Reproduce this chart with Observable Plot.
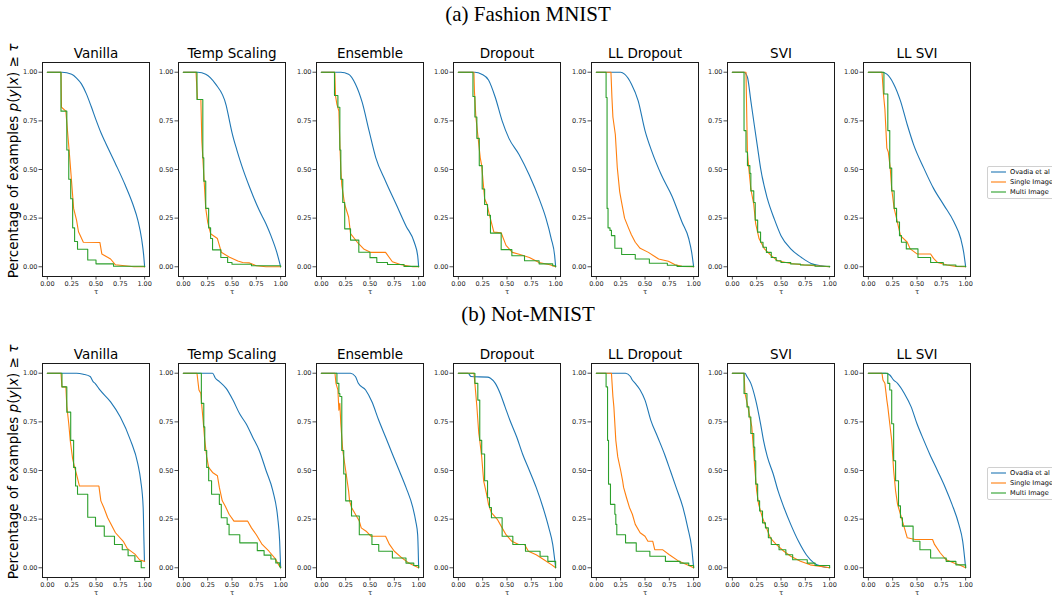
<!DOCTYPE html>
<html>
<head>
<meta charset="utf-8">
<script src="https://cdn.jsdelivr.net/npm/d3@7"></script>
<script src="https://cdn.jsdelivr.net/npm/@observablehq/plot@0.6"></script>
<style>
  body { margin: 0; background: white; }
  #root { position: relative; width: 1052px; height: 596px; overflow: hidden; background: white; font-family: "DejaVu Sans", sans-serif; }
  .title { position: absolute; left: 2px; width: 1052px; text-align: center; font-family: "Liberation Serif", serif; font-size: 21px; line-height: 24px; color: #000; }
  .ylab { position: absolute; width: 260px; height: 16px; line-height: 16px; text-align: center; font-size: 13.5px; white-space: nowrap; transform: rotate(-90deg); transform-origin: center; color: #000; }
  .panel { position: absolute; }
  .legend { position: absolute; left: 987px; width: 80px; height: 31px; border: 1px solid #d0d0d0; border-radius: 2px; background: white; }
  .legrow { position: absolute; left: 3px; height: 10px; display: flex; align-items: center; font-size: 6.6px; color: #000; white-space: nowrap; }
  .legrow svg { margin-right: 4px; }
</style>
</head>
<body>
<div id="root"></div>
<script>
// ---------- labels ----------
const methods = ["Vanilla", "Temp Scaling", "Ensemble", "Dropout", "LL Dropout", "SVI", "LL SVI"];
const seriesNames = ["Ovadia et al", "Single Image", "Multi Image"];
const seriesColors = ["#1f77b4", "#ff7f0e", "#2ca02c"];
const seriesCurves = ["monotone-x", "linear", "step-after"];
const tickValues = [0, 0.25, 0.5, 0.75, 1];
const rowTitles = ["(a) Fashion MNIST", "(b) Not-MNIST"];

// ---------- (a) Fashion MNIST: [tau, fraction] ----------
const fm_vanilla_ovadia = [[0,1],[0.15,1],[0.25,0.99],[0.30,0.97],[0.35,0.94],[0.40,0.89],[0.45,0.825],[0.50,0.755],[0.55,0.69],[0.60,0.635],[0.70,0.53],[0.80,0.42],[0.88,0.32],[0.93,0.24],[0.97,0.14],[0.99,0.06],[1,0]];
const fm_vanilla_single = [[0,1],[0.14,1],[0.145,0.82],[0.19,0.80],[0.23,0.56],[0.27,0.30],[0.30,0.24],[0.32,0.18],[0.37,0.126],[0.54,0.125],[0.56,0.066],[0.65,0.04],[0.70,0.01],[0.89,0],[1,0]];
const fm_vanilla_multi = [[0,1],[0.14,0.80],[0.20,0.60],[0.22,0.45],[0.24,0.35],[0.26,0.2],[0.28,0.13],[0.31,0.09],[0.415,0.035],[0.50,0.015],[0.68,0.003],[1,0]];

const fm_temp_ovadia = [[0,1],[0.15,1],[0.23,0.99],[0.33,0.94],[0.44,0.83],[0.47,0.76],[0.50,0.69],[0.55,0.60],[0.60,0.52],[0.68,0.41],[0.78,0.29],[0.85,0.22],[0.90,0.16],[0.96,0.075],[1,0]];
const fm_temp_single = [[0,1],[0.13,1],[0.145,0.86],[0.18,0.86],[0.19,0.645],[0.20,0.56],[0.23,0.30],[0.25,0.23],[0.28,0.17],[0.35,0.145],[0.39,0.075],[0.47,0.05],[0.56,0.03],[0.61,0.022],[0.68,0.02],[0.75,0.005],[0.85,0],[1,0]];
const fm_temp_multi = [[0,1],[0.14,0.86],[0.20,0.56],[0.21,0.44],[0.23,0.30],[0.26,0.20],[0.28,0.145],[0.30,0.087],[0.385,0.048],[0.455,0.022],[0.50,0.013],[0.70,0.005],[1,0]];

const fm_ensemble_ovadia = [[0,1],[0.20,1],[0.28,0.99],[0.35,0.94],[0.42,0.845],[0.49,0.70],[0.56,0.56],[0.66,0.44],[0.77,0.32],[0.87,0.21],[0.955,0.126],[0.99,0.057],[1,0]];
const fm_ensemble_single = [[0,1],[0.138,1],[0.145,0.88],[0.16,0.835],[0.18,0.80],[0.19,0.63],[0.20,0.50],[0.21,0.42],[0.24,0.32],[0.28,0.256],[0.30,0.17],[0.37,0.126],[0.44,0.09],[0.51,0.074],[0.66,0.074],[0.73,0.026],[0.82,0.01],[0.94,0],[1,0]];
const fm_ensemble_multi = [[0,1],[0.135,0.88],[0.17,0.82],[0.19,0.60],[0.20,0.45],[0.22,0.33],[0.24,0.195],[0.30,0.137],[0.385,0.075],[0.50,0.047],[0.57,0.022],[0.68,0.012],[0.85,0.002],[1,0]];

const fm_dropout_ovadia = [[0,1],[0.17,1],[0.24,0.99],[0.31,0.96],[0.38,0.87],[0.45,0.75],[0.52,0.66],[0.625,0.576],[0.73,0.47],[0.83,0.35],[0.90,0.25],[0.955,0.144],[0.99,0.057],[1,0]];
const fm_dropout_single = [[0,1],[0.16,1],[0.165,0.905],[0.18,0.77],[0.225,0.56],[0.24,0.52],[0.27,0.35],[0.295,0.32],[0.32,0.265],[0.365,0.178],[0.44,0.175],[0.49,0.11],[0.555,0.074],[0.625,0.064],[0.73,0.048],[0.83,0.022],[0.94,0.01],[1,0]];
const fm_dropout_multi = [[0,1],[0.15,0.875],[0.17,0.77],[0.19,0.66],[0.215,0.52],[0.245,0.40],[0.27,0.32],[0.30,0.265],[0.33,0.173],[0.44,0.088],[0.55,0.057],[0.68,0.031],[0.83,0.015],[0.97,0.005],[1,0]];

const fm_llDropout_ovadia = [[0,1],[0.25,1],[0.29,0.99],[0.36,0.94],[0.43,0.853],[0.50,0.70],[0.57,0.593],[0.67,0.47],[0.78,0.36],[0.88,0.23],[0.95,0.144],[0.98,0.074],[1,0]];
const fm_llDropout_single = [[0,1],[0.15,1],[0.16,0.87],[0.17,0.77],[0.195,0.68],[0.215,0.51],[0.24,0.385],[0.26,0.33],[0.29,0.25],[0.33,0.20],[0.36,0.165],[0.40,0.126],[0.45,0.095],[0.535,0.074],[0.64,0.04],[0.74,0.028],[0.81,0.01],[0.88,0.002],[1,0]];
const fm_llDropout_multi = [[0,1],[0.09,1],[0.10,0.87],[0.11,0.30],[0.12,0.20],[0.14,0.187],[0.155,0.16],[0.19,0.095],[0.26,0.063],[0.40,0.04],[0.545,0.018],[0.73,0.008],[0.83,0.002],[1,0]];

const fm_svi_ovadia = [[0,1],[0.12,1],[0.155,0.974],[0.19,0.853],[0.225,0.73],[0.26,0.61],[0.29,0.507],[0.36,0.35],[0.43,0.247],[0.50,0.16],[0.60,0.092],[0.71,0.048],[0.81,0.017],[0.91,0.005],[1,0]];
const fm_svi_single = [[0,1],[0.14,1],[0.15,0.72],[0.155,0.59],[0.17,0.50],[0.19,0.40],[0.22,0.32],[0.24,0.22],[0.275,0.144],[0.33,0.092],[0.40,0.057],[0.465,0.031],[0.60,0.017],[0.74,0.009],[1,0]];
const fm_svi_multi = [[0,1],[0.12,0.70],[0.14,0.59],[0.155,0.52],[0.18,0.48],[0.19,0.39],[0.22,0.33],[0.235,0.24],[0.26,0.178],[0.29,0.126],[0.315,0.10],[0.35,0.074],[0.40,0.048],[0.45,0.031],[0.50,0.022],[0.60,0.014],[0.70,0.009],[0.85,0.003],[1,0]];

const fm_llSvi_ovadia = [[0,1],[0.14,1],[0.19,0.99],[0.26,0.94],[0.33,0.853],[0.40,0.73],[0.465,0.628],[0.57,0.507],[0.67,0.403],[0.776,0.317],[0.88,0.23],[0.95,0.144],[0.98,0.074],[1,0]];
const fm_llSvi_single = [[0,1],[0.14,1],[0.155,0.888],[0.17,0.81],[0.19,0.61],[0.205,0.59],[0.225,0.507],[0.24,0.40],[0.265,0.30],[0.286,0.256],[0.33,0.16],[0.40,0.126],[0.43,0.092],[0.50,0.066],[0.64,0.066],[0.67,0.043],[0.71,0.022],[0.81,0.009],[0.90,0.002],[1,0]];
const fm_llSvi_multi = [[0,1],[0.16,0.888],[0.20,0.70],[0.22,0.507],[0.24,0.39],[0.265,0.30],[0.29,0.23],[0.32,0.16],[0.34,0.126],[0.39,0.092],[0.51,0.048],[0.64,0.022],[0.77,0.009],[0.90,0.003],[1,0]];

// ---------- (b) Not-MNIST: [tau, fraction] ----------
const nm_vanilla_ovadia = [[0,1],[0.30,1],[0.37,0.995],[0.44,0.983],[0.47,0.957],[0.49,0.948],[0.54,0.914],[0.65,0.853],[0.75,0.775],[0.855,0.655],[0.93,0.534],[0.96,0.447],[0.985,0.31],[0.993,0.136],[0.998,0.035]];
const nm_vanilla_single = [[0,1],[0.14,1],[0.15,0.93],[0.19,0.93],[0.20,0.83],[0.22,0.74],[0.235,0.655],[0.26,0.56],[0.28,0.516],[0.30,0.48],[0.33,0.42],[0.53,0.42],[0.55,0.344],[0.58,0.31],[0.62,0.257],[0.70,0.18],[0.78,0.136],[0.82,0.10],[0.90,0.07],[0.95,0.04],[1,0.033]];
const nm_vanilla_multi = [[0,1],[0.15,0.93],[0.20,0.80],[0.24,0.655],[0.27,0.516],[0.29,0.42],[0.31,0.378],[0.415,0.26],[0.495,0.214],[0.585,0.162],[0.69,0.12],[0.77,0.093],[0.83,0.062],[0.90,0.033],[0.965,0],[1,0]];

const nm_temp_ovadia = [[0,1],[0.30,1],[0.33,0.974],[0.37,0.957],[0.44,0.922],[0.51,0.862],[0.58,0.79],[0.645,0.74],[0.714,0.67],[0.78,0.603],[0.85,0.50],[0.92,0.395],[0.97,0.257],[0.99,0.136],[1,0]];
const nm_temp_single = [[0,1],[0.14,1],[0.16,0.914],[0.18,0.896],[0.19,0.83],[0.20,0.775],[0.22,0.655],[0.24,0.57],[0.26,0.516],[0.30,0.49],[0.35,0.473],[0.37,0.413],[0.40,0.344],[0.43,0.318],[0.47,0.275],[0.52,0.24],[0.66,0.24],[0.70,0.205],[0.75,0.17],[0.81,0.12],[0.88,0.085],[0.94,0.05],[0.98,0.015],[1,0]];
const nm_temp_multi = [[0,1],[0.185,0.845],[0.21,0.724],[0.22,0.603],[0.24,0.516],[0.26,0.447],[0.29,0.378],[0.37,0.326],[0.39,0.257],[0.45,0.223],[0.47,0.17],[0.58,0.128],[0.76,0.088],[0.83,0.065],[0.90,0.045],[0.95,0.025],[0.99,0.005],[1,0]];

const nm_ensemble_ovadia = [[0,1],[0.30,1],[0.35,0.983],[0.38,0.948],[0.455,0.914],[0.52,0.853],[0.59,0.758],[0.66,0.672],[0.73,0.585],[0.80,0.50],[0.87,0.413],[0.94,0.31],[0.97,0.24],[0.99,0.17],[1,0]];
const nm_ensemble_single = [[0,1],[0.14,1],[0.15,0.948],[0.17,0.914],[0.18,0.81],[0.19,0.845],[0.20,0.74],[0.22,0.603],[0.25,0.50],[0.28,0.395],[0.29,0.344],[0.31,0.31],[0.36,0.266],[0.39,0.24],[0.41,0.205],[0.46,0.188],[0.51,0.162],[0.66,0.162],[0.70,0.12],[0.75,0.085],[0.83,0.05],[0.90,0.024],[0.95,0.012],[1,0]];
const nm_ensemble_multi = [[0,1],[0.16,0.948],[0.18,0.896],[0.19,0.88],[0.21,0.603],[0.23,0.482],[0.25,0.344],[0.31,0.266],[0.39,0.17],[0.52,0.12],[0.59,0.085],[0.73,0.05],[0.87,0.024],[0.95,0.012],[1,0]];

const nm_dropout_ovadia = [[0,1],[0.10,1],[0.13,0.983],[0.30,0.98],[0.33,0.974],[0.38,0.948],[0.43,0.896],[0.48,0.827],[0.53,0.758],[0.60,0.672],[0.66,0.585],[0.73,0.50],[0.80,0.413],[0.87,0.31],[0.93,0.205],[0.97,0.12],[1,0]];
const nm_dropout_single = [[0,1],[0.16,1],[0.17,0.948],[0.19,0.83],[0.21,0.69],[0.22,0.655],[0.24,0.57],[0.26,0.447],[0.29,0.378],[0.31,0.326],[0.34,0.283],[0.40,0.249],[0.44,0.214],[0.49,0.17],[0.55,0.136],[0.62,0.12],[0.68,0.12],[0.72,0.085],[0.80,0.067],[0.88,0.041],[0.96,0.015],[1,0]];
const nm_dropout_multi = [[0,1],[0.17,0.948],[0.20,0.862],[0.22,0.655],[0.24,0.585],[0.27,0.447],[0.30,0.36],[0.32,0.31],[0.34,0.257],[0.45,0.162],[0.56,0.12],[0.69,0.085],[0.84,0.059],[0.92,0.033],[1,0]];

const nm_llDropout_ovadia = [[0,1],[0.30,1],[0.35,0.983],[0.37,0.965],[0.40,0.948],[0.45,0.914],[0.50,0.862],[0.56,0.758],[0.63,0.672],[0.70,0.585],[0.76,0.50],[0.82,0.413],[0.89,0.31],[0.94,0.205],[0.98,0.102],[1,0]];
const nm_llDropout_single = [[0,1],[0.155,1],[0.17,0.88],[0.18,0.827],[0.20,0.655],[0.22,0.57],[0.25,0.50],[0.27,0.447],[0.28,0.413],[0.31,0.36],[0.34,0.31],[0.37,0.275],[0.40,0.223],[0.45,0.18],[0.50,0.162],[0.53,0.136],[0.58,0.136],[0.60,0.093],[0.68,0.093],[0.75,0.067],[0.85,0.033],[0.95,0.012],[1,0]];
const nm_llDropout_multi = [[0,1],[0.10,0.93],[0.115,0.655],[0.125,0.43],[0.145,0.326],[0.19,0.275],[0.20,0.223],[0.21,0.17],[0.30,0.128],[0.41,0.085],[0.55,0.059],[0.71,0.033],[0.86,0.024],[0.95,0.012],[1,0]];

const nm_svi_ovadia = [[0,1],[0.13,1],[0.15,0.983],[0.19,0.948],[0.24,0.862],[0.29,0.74],[0.32,0.655],[0.36,0.57],[0.42,0.482],[0.47,0.395],[0.53,0.31],[0.60,0.223],[0.68,0.136],[0.76,0.067],[0.84,0.024],[0.92,0.007],[1,0]];
const nm_svi_single = [[0,1],[0.12,1],[0.13,0.896],[0.16,0.827],[0.20,0.724],[0.21,0.655],[0.23,0.516],[0.25,0.395],[0.27,0.326],[0.31,0.257],[0.35,0.205],[0.39,0.154],[0.45,0.12],[0.53,0.085],[0.60,0.059],[0.70,0.033],[0.80,0.015],[1,0]];
const nm_svi_multi = [[0,1],[0.12,0.896],[0.15,0.827],[0.17,0.775],[0.19,0.69],[0.22,0.62],[0.23,0.55],[0.24,0.43],[0.26,0.344],[0.28,0.292],[0.31,0.231],[0.34,0.205],[0.37,0.154],[0.40,0.12],[0.48,0.093],[0.55,0.067],[0.62,0.041],[0.77,0.024],[0.85,0.012],[1,0]];

const nm_llSvi_ovadia = [[0,1],[0.18,1],[0.22,0.991],[0.26,0.965],[0.30,0.948],[0.37,0.896],[0.44,0.827],[0.50,0.74],[0.57,0.655],[0.63,0.585],[0.71,0.50],[0.79,0.413],[0.86,0.326],[0.93,0.223],[0.97,0.136],[1,0]];
const nm_llSvi_single = [[0,1],[0.14,1],[0.15,0.965],[0.17,0.948],[0.19,0.862],[0.20,0.827],[0.22,0.74],[0.24,0.655],[0.26,0.50],[0.28,0.395],[0.30,0.326],[0.33,0.275],[0.36,0.223],[0.40,0.154],[0.48,0.145],[0.66,0.145],[0.68,0.12],[0.74,0.076],[0.80,0.041],[0.88,0.024],[0.95,0.012],[1,0]];
const nm_llSvi_multi = [[0,1],[0.20,0.948],[0.22,0.914],[0.24,0.74],[0.26,0.55],[0.28,0.447],[0.31,0.318],[0.33,0.257],[0.35,0.214],[0.46,0.136],[0.53,0.093],[0.64,0.05],[0.80,0.033],[0.90,0.015],[1,0]];

// ---------- assemble ----------
const rows = [
  [
    [fm_vanilla_ovadia, fm_vanilla_single, fm_vanilla_multi],
    [fm_temp_ovadia, fm_temp_single, fm_temp_multi],
    [fm_ensemble_ovadia, fm_ensemble_single, fm_ensemble_multi],
    [fm_dropout_ovadia, fm_dropout_single, fm_dropout_multi],
    [fm_llDropout_ovadia, fm_llDropout_single, fm_llDropout_multi],
    [fm_svi_ovadia, fm_svi_single, fm_svi_multi],
    [fm_llSvi_ovadia, fm_llSvi_single, fm_llSvi_multi]
  ],
  [
    [nm_vanilla_ovadia, nm_vanilla_single, nm_vanilla_multi],
    [nm_temp_ovadia, nm_temp_single, nm_temp_multi],
    [nm_ensemble_ovadia, nm_ensemble_single, nm_ensemble_multi],
    [nm_dropout_ovadia, nm_dropout_single, nm_dropout_multi],
    [nm_llDropout_ovadia, nm_llDropout_single, nm_llDropout_multi],
    [nm_svi_ovadia, nm_svi_single, nm_svi_multi],
    [nm_llSvi_ovadia, nm_llSvi_single, nm_llSvi_multi]
  ]
];

const root = document.getElementById("root");
const frameLefts = [42, 178, 316, 453, 591, 727, 863];
const frameTops = [62, 363];
const titleTops = [2, 302];
const frameW = 107, frameH = 214;
const mL = 26, mR = 2, mT = 22, mB = 24;
const fmt = d3.format(".2f");

rows.forEach((row, r) => {
  const t = document.createElement("div");
  t.className = "title";
  t.style.top = titleTops[r] + "px";
  t.textContent = rowTitles[r];
  root.appendChild(t);

  const yl = document.createElement("div");
  yl.className = "ylab";
  const cy = frameTops[r] + (r === 0 ? 98.5 : 99);
  yl.style.left = (12.5 - 130) + "px";
  yl.style.top = (cy - 8) + "px";
  yl.innerHTML = 'Percentage of examples <i>p</i>(<i>y</i>|<i>x</i>) ≥ <i>τ</i>';
  root.appendChild(yl);

  row.forEach((series, c) => {
    const lineMarks = series.map((data, s) =>
      Plot.line(data, {x: d => d[0], y: d => d[1], stroke: seriesColors[s], strokeWidth: 1.1, curve: seriesCurves[s]})
    );
    const chart = Plot.plot({
      width: mL + frameW + mR,
      height: mT + frameH + mB,
      marginLeft: mL, marginRight: mR, marginTop: mT, marginBottom: mB,
      x: {domain: [-0.05, 1.05]},
      y: {domain: [-0.05, 1.05]},
      style: {fontFamily: "DejaVu Sans", fontSize: "6.5px", color: "#222", background: "transparent", overflow: "visible"},
      marks: [
        Plot.axisX(tickValues, {tickSize: 3.5, tickPadding: 1.5, tickFormat: fmt, label: null, fontSize: 6.5, strokeWidth: 0.8}),
        Plot.axisY(tickValues, {tickSize: 3.5, tickPadding: 1.5, tickFormat: fmt, label: null, fontSize: 6.5, strokeWidth: 0.8}),
        ...lineMarks,
        Plot.frame({stroke: "#1a1a1a", strokeWidth: 1}),
        Plot.text([methods[c]], {text: d => d, frameAnchor: "top", lineAnchor: "middle", dy: -9, fontSize: 13.5, fill: "#000"}),
        Plot.text(["τ"], {text: d => d, frameAnchor: "bottom", lineAnchor: "middle", dy: 15.5, fontSize: 7, fill: "#222"})
      ]
    });
    chart.classList.add("panel");
    chart.style.left = (frameLefts[c] - mL) + "px";
    chart.style.top = (frameTops[r] - mT) + "px";
    root.appendChild(chart);
  });

  // legend
  const leg = document.createElement("div");
  leg.className = "legend";
  leg.style.top = (r === 0 ? 166 : 467) + "px";
  seriesNames.forEach((name, s) => {
    const rowEl = document.createElement("div");
    rowEl.className = "legrow";
    rowEl.style.top = (s * 10) + "px";
    rowEl.innerHTML = `<svg width="15" height="4"><line x1="0" x2="15" y1="2" y2="2" stroke="${seriesColors[s]}" stroke-width="1.1"/></svg>${name}`;
    leg.appendChild(rowEl);
  });
  root.appendChild(leg);
});
</script>
</body>
</html>
